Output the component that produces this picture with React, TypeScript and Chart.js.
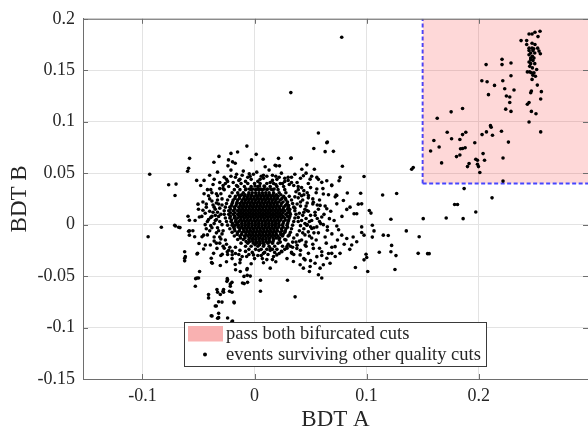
import React, { useEffect, useRef } from "react";
import { Chart, registerables } from "chart.js";

Chart.register(...registerables);

// ---------- data ----------
const xTicks = [-0.1, 0, 0.1, 0.2];
const yTicks = [-0.15, -0.1, -0.05, 0, 0.05, 0.1, 0.15, 0.2];
const xRange = [-0.153, 0.2975];
const yRange = [-0.15, 0.2];
const cutA = 0.15; // BDT A cut
const cutB = 0.04; // BDT B cut
const cutBoxEnd = [0.3, 0.2]; // region upper corner
const axisTitles = ["BDT A", "BDT B"];
const legendLabels = ["pass both bifurcated cuts", "events surviving other quality cuts"];

// dense core of the event cloud: [y, x-values]
const coreRows: [number, number[]][] = [
  [0.040, [-0.012, -0.006, 0.000, 0.005, 0.011, 0.017, 0.023]],
  [0.037, [-0.015, -0.009, -0.003, 0.003, 0.009, 0.014, 0.020, 0.026]],
  [0.034, [-0.018, -0.013, -0.008, -0.003, 0.001, 0.004, 0.007, 0.011, 0.016, 0.021, 0.027]],
  [0.031, [-0.020, -0.015, -0.010, -0.005, -0.002, 0.001, 0.004, 0.007, 0.010, 0.013, 0.017, 0.022, 0.028]],
  [0.0275, [-0.022, -0.017, -0.013, -0.009, -0.006, -0.003, 0.000, 0.003, 0.006, 0.009, 0.012, 0.015, 0.018, 0.021, 0.026, 0.031]],
  [0.024, [-0.024, -0.019, -0.015, -0.011, -0.008, -0.005, -0.002, 0.001, 0.004, 0.007, 0.010, 0.013, 0.016, 0.019, 0.023, 0.028, 0.033]],
  [0.0205, [-0.025, -0.020, -0.016, -0.013, -0.010, -0.007, -0.004, -0.001, 0.002, 0.005, 0.008, 0.011, 0.014, 0.017, 0.020, 0.024, 0.029, 0.034]],
  [0.017, [-0.026, -0.022, -0.018, -0.014, -0.011, -0.008, -0.005, -0.002, 0.001, 0.004, 0.007, 0.010, 0.013, 0.016, 0.019, 0.022, 0.026, 0.030, 0.035]],
  [0.0135, [-0.027, -0.023, -0.019, -0.015, -0.012, -0.009, -0.006, -0.003, 0.000, 0.003, 0.006, 0.009, 0.012, 0.015, 0.018, 0.021, 0.024, 0.027, 0.031, 0.036]],
  [0.010, [-0.027, -0.023, -0.019, -0.015, -0.012, -0.009, -0.006, -0.003, 0.000, 0.003, 0.006, 0.009, 0.012, 0.015, 0.018, 0.021, 0.024, 0.028, 0.032, 0.037]],
  [0.0065, [-0.026, -0.022, -0.018, -0.015, -0.012, -0.009, -0.006, -0.003, 0.000, 0.003, 0.006, 0.009, 0.012, 0.015, 0.018, 0.021, 0.024, 0.027, 0.031, 0.036]],
  [0.003, [-0.025, -0.021, -0.017, -0.014, -0.011, -0.008, -0.005, -0.002, 0.001, 0.004, 0.007, 0.010, 0.013, 0.016, 0.019, 0.022, 0.026, 0.030, 0.035]],
  [-0.0005, [-0.024, -0.020, -0.017, -0.014, -0.011, -0.008, -0.005, -0.002, 0.001, 0.004, 0.007, 0.010, 0.013, 0.016, 0.019, 0.022, 0.025, 0.029, 0.034]],
  [-0.004, [-0.022, -0.018, -0.013, -0.010, -0.007, -0.004, -0.001, 0.002, 0.005, 0.008, 0.011, 0.014, 0.017, 0.020, 0.024, 0.028, 0.033]],
  [-0.0075, [-0.020, -0.015, -0.011, -0.008, -0.005, -0.002, 0.001, 0.004, 0.007, 0.010, 0.013, 0.016, 0.019, 0.023, 0.027, 0.032]],
  [-0.011, [-0.018, -0.013, -0.009, -0.006, -0.003, 0.000, 0.003, 0.006, 0.009, 0.012, 0.015, 0.018, 0.021, 0.025, 0.030]],
  [-0.0145, [-0.015, -0.010, -0.005, -0.002, 0.001, 0.004, 0.007, 0.010, 0.013, 0.017, 0.022, 0.027]],
  [-0.018, [-0.012, -0.006, -0.001, 0.002, 0.005, 0.008, 0.012, 0.016, 0.021]],
  [-0.021, [-0.008, -0.003, 0.003, 0.008, 0.013, 0.018]],
  [-0.024, [-0.005, 0.001, 0.006, 0.011, 0.016]],
];

// further core events lying between the rows above: [y, x-values]
const coreFillRows: [number, number[]][] = [
  [0.0375, [0.0005, 0.0045, 0.0085]],
  [0.0345, [-0.0075, -0.0045, -0.0015, 0.0025, 0.0055, 0.0085, 0.0115, 0.0145, 0.0175]],
  [0.029, [-0.0145, -0.0115, -0.0085, -0.0055, -0.0025, 0.0015, 0.0045, 0.0075, 0.0105, 0.0135, 0.0165, 0.0195, 0.0235]],
  [0.0255, [-0.0175, -0.0135, -0.0095, -0.0065, -0.0035, -0.0005, 0.0025, 0.0055, 0.0085, 0.0115, 0.0145, 0.0175, 0.0205, 0.0245, 0.0275]],
  [0.022, [-0.0195, -0.0155, -0.0115, -0.0085, -0.0055, -0.0025, 0.0005, 0.0035, 0.0065, 0.0095, 0.0125, 0.0155, 0.0185, 0.0215, 0.0255, 0.0295]],
  [0.0185, [-0.0205, -0.0165, -0.0125, -0.0095, -0.0065, -0.0035, -0.0005, 0.0025, 0.0055, 0.0085, 0.0115, 0.0145, 0.0175, 0.0205, 0.0235, 0.0275, 0.0305]],
  [0.015, [-0.0215, -0.0175, -0.0135, -0.0105, -0.0075, -0.0045, -0.0015, 0.0015, 0.0045, 0.0075, 0.0105, 0.0135, 0.0165, 0.0195, 0.0225, 0.0255, 0.0295, 0.0315]],
  [0.0115, [-0.0215, -0.0175, -0.0135, -0.0105, -0.0075, -0.0045, -0.0015, 0.0015, 0.0045, 0.0075, 0.0105, 0.0135, 0.0165, 0.0195, 0.0225, 0.0255, 0.0295, 0.0315]],
  [0.008, [-0.0215, -0.0175, -0.0135, -0.0105, -0.0075, -0.0045, -0.0015, 0.0015, 0.0045, 0.0075, 0.0105, 0.0135, 0.0165, 0.0195, 0.0225, 0.0255, 0.0295, 0.0315]],
  [0.0045, [-0.0205, -0.0165, -0.0125, -0.0095, -0.0065, -0.0035, -0.0005, 0.0025, 0.0055, 0.0085, 0.0115, 0.0145, 0.0175, 0.0205, 0.0235, 0.0275, 0.0305]],
  [0.001, [-0.0195, -0.0155, -0.0115, -0.0085, -0.0055, -0.0025, 0.0005, 0.0035, 0.0065, 0.0095, 0.0125, 0.0155, 0.0185, 0.0215, 0.0255, 0.0295]],
  [-0.0025, [-0.0185, -0.0145, -0.0115, -0.0085, -0.0055, -0.0025, 0.0005, 0.0035, 0.0065, 0.0095, 0.0125, 0.0155, 0.0185, 0.0215, 0.0255, 0.0295]],
  [-0.006, [-0.0175, -0.0135, -0.0095, -0.0065, -0.0035, -0.0005, 0.0025, 0.0055, 0.0085, 0.0115, 0.0145, 0.0175, 0.0205, 0.0245, 0.0275]],
  [-0.0095, [-0.0155, -0.0115, -0.0075, -0.0045, -0.0015, 0.0015, 0.0045, 0.0075, 0.0105, 0.0135, 0.0165, 0.0195, 0.0235, 0.0255]],
  [-0.013, [-0.0125, -0.0085, -0.0045, -0.0015, 0.0015, 0.0045, 0.0075, 0.0105, 0.0135, 0.0165, 0.0195, 0.0225]],
  [-0.0165, [-0.0075, -0.0045, -0.0015, 0.0015, 0.0045, 0.0075, 0.0105, 0.0135, 0.0165]],
  [-0.0195, [0.0005, 0.0045, 0.0085]],
];

// ring of events just outside the core: [x, y]
const ringEvents: number[][] = [
  [0.040, 0.030], [0.043, 0.024], [0.038, 0.020], [0.045, 0.015], [0.040, 0.011], [0.046, 0.006], [0.041, -0.001],
  [0.044, -0.004], [0.038, -0.010], [0.042, -0.015], [0.035, -0.013], [0.039, 0.034], [0.036, 0.027], [0.047, 0.021],
  [0.049, 0.003], [0.048, -0.007], [0.034, -0.022], [0.030, -0.019], [0.039, 0.007], [0.036, 0.016],
  [-0.030, 0.030], [-0.033, 0.024], [-0.029, 0.019], [-0.035, 0.015], [-0.030, 0.010], [-0.034, 0.005], [-0.029, 0.000],
  [-0.033, -0.003], [-0.028, -0.006], [-0.031, -0.012], [-0.026, -0.015], [-0.029, 0.025], [-0.037, 0.019], [-0.039, 0.007],
  [-0.036, 0.001], [-0.025, -0.019], [-0.022, -0.022], [-0.027, 0.034], [-0.023, 0.037], [-0.031, 0.041],
  [-0.019, 0.041], [-0.014, 0.043], [-0.008, 0.042], [-0.003, 0.044], [0.003, 0.042], [0.008, 0.045], [0.014, 0.041],
  [0.020, 0.044], [0.025, 0.040], [0.030, 0.043], [0.035, 0.038], [-0.017, 0.046], [-0.006, 0.046], [0.011, 0.047],
  [0.022, 0.046], [-0.017, -0.022], [-0.013, -0.025], [-0.008, -0.026], [-0.002, -0.027], [0.004, -0.025],
  [0.009, -0.027], [0.014, -0.025], [0.020, -0.024], [0.025, -0.021], [0.023, -0.017], [0.028, -0.015], [0.031, -0.010],
];

// irregular fringe of the dense region: [x, y]
const fringeEvents: number[][] = [
  [-0.041, 0.028], [-0.038, 0.023], [-0.043, 0.020], [-0.036, 0.017], [-0.040, 0.013], [-0.044, 0.011], [-0.033, 0.012],
  [-0.038, 0.008], [-0.042, 0.003], [-0.035, 0.004], [-0.039, -0.001], [-0.034, -0.008], [-0.040, -0.006], [-0.030, -0.014],
  [-0.036, -0.016], [-0.032, 0.020], [-0.034, 0.030], [-0.028, 0.035], [-0.039, 0.034], [-0.031, -0.018], [-0.027, -0.023],
  [-0.032, 0.008], [-0.046, 0.014], [-0.043, -0.004],
  [0.039, 0.026], [0.044, 0.029], [0.041, 0.018], [0.048, 0.013], [0.043, 0.009], [0.051, 0.004], [0.045, 0.001],
  [0.039, 0.003], [0.050, -0.002], [0.043, -0.008], [0.049, -0.011], [0.040, -0.016], [0.046, -0.017], [0.038, -0.020],
  [0.053, -0.008], [0.054, 0.012], [0.037, 0.032], [0.042, 0.036], [0.047, 0.031], [0.052, 0.025], [0.034, -0.017],
  [0.055, -0.015], [0.058, 0.003], [0.056, 0.019],
  [-0.025, 0.044], [-0.021, 0.047], [-0.011, 0.048], [-0.001, 0.049], [0.006, 0.047], [0.016, 0.048], [0.027, 0.045],
  [0.033, 0.046], [-0.028, 0.038], [0.031, 0.039], [0.019, 0.039], [-0.016, 0.038],
  [-0.020, -0.026], [-0.014, -0.029], [-0.007, -0.031], [0.003, -0.030], [0.012, -0.029], [0.018, -0.027], [0.024, -0.026],
  [0.029, -0.023], [0.033, -0.027], [-0.024, -0.029], [0.007, -0.033], [0.016, -0.034],
];

// sparser halo around the core: [x, y]
const haloEvents: number[][] = [
  [-0.040, 0.048], [-0.033, 0.051], [-0.027, 0.046], [-0.021, 0.053], [-0.016, 0.049], [-0.010, 0.052], [-0.004, 0.047],
  [0.002, 0.051], [0.008, 0.048], [0.013, 0.053], [0.019, 0.047], [0.024, 0.050], [0.030, 0.046], [0.036, 0.049],
  [0.041, 0.045], [0.046, 0.050], [0.051, 0.047], [0.057, 0.044], [-0.045, 0.043], [-0.036, 0.044], [-0.024, 0.042],
  [-0.013, 0.044], [0.005, 0.044], [0.016, 0.043], [0.027, 0.042], [0.038, 0.041], [0.048, 0.040],
  [-0.048, 0.038], [-0.042, 0.034], [-0.037, 0.039], [-0.031, 0.035], [-0.026, 0.040], [-0.045, 0.030], [-0.038, 0.031], [-0.033, 0.028],
  [0.033, 0.041], [0.039, 0.037], [0.044, 0.033], [0.050, 0.036], [0.055, 0.031], [0.061, 0.035], [0.066, 0.029],
  [0.042, 0.028], [0.048, 0.026], [0.058, 0.024], [0.072, 0.027],
  [-0.046, 0.022], [-0.040, 0.025], [-0.034, 0.021], [-0.050, 0.015], [-0.043, 0.017], [-0.037, 0.012], [-0.031, 0.016],
  [-0.047, 0.008], [-0.041, 0.005], [-0.035, 0.009], [-0.031, 0.003], [-0.044, 0.000], [-0.038, -0.003], [-0.032, -0.006],
  [-0.042, -0.010], [-0.036, -0.012], [-0.029, -0.009], [-0.053, 0.004], [-0.055, -0.006],
  [0.041, 0.022], [0.046, 0.018], [0.052, 0.020], [0.057, 0.015], [0.063, 0.018], [0.044, 0.012], [0.050, 0.009],
  [0.056, 0.006], [0.062, 0.010], [0.068, 0.013], [0.042, 0.004], [0.047, 0.000], [0.053, -0.003], [0.059, 0.001],
  [0.065, -0.002], [0.071, 0.004], [0.040, -0.006], [0.045, -0.010], [0.051, -0.013], [0.057, -0.008], [0.063, -0.012],
  [0.069, -0.009], [0.075, -0.005], [0.078, 0.008],
  [-0.034, -0.018], [-0.028, -0.021], [-0.023, -0.025], [-0.017, -0.028], [-0.011, -0.031], [-0.005, -0.029], [0.000, -0.033],
  [0.006, -0.030], [0.011, -0.034], [0.017, -0.031], [0.022, -0.028], [0.027, -0.024], [0.032, -0.021], [0.037, -0.017],
  [-0.020, -0.033], [-0.013, -0.037], [-0.003, -0.038], [0.008, -0.037], [0.019, -0.036], [0.029, -0.033], [0.035, -0.029],
  [0.041, -0.025], [0.046, -0.021], [0.052, -0.019], [0.058, -0.023], [0.064, -0.018], [0.069, -0.022], [0.074, -0.015],
  [0.080, -0.019], [0.085, -0.024], [0.060, -0.030], [0.066, -0.028], [0.072, -0.031], [0.044, -0.033], [0.050, -0.035],
  [0.088, -0.012], [-0.030, -0.030], [-0.025, -0.036],
  [0.0467, -0.0006], [0.0511, -0.0038], [0.0556, -0.0022], [0.0614, 0.0000], [0.0650, -0.0054], [0.0734, -0.0013],
  [0.0778, -0.0102], [0.0823, -0.0135], [0.0867, -0.0198], [0.0912, -0.0166],
  [-0.0009, -0.0294], [0.0080, -0.0279], [0.0140, -0.0231], [0.0199, -0.0294], [0.0244, -0.0263], [0.0289, -0.0214],
  [0.0333, -0.0279], [0.0378, -0.0231], [0.0407, -0.0294], [0.0451, -0.0198], [0.0481, -0.0279], [0.0525, -0.0231],
  [0.0556, -0.0311], [0.0600, -0.0263], [0.0645, -0.0327], [0.0689, -0.0279], [0.0719, -0.0214], [0.0763, -0.0279],
  [0.0347, -0.0359], [0.0407, -0.0390], [0.0451, -0.0342], [0.0496, -0.0407], [0.0540, -0.0375], [0.0585, -0.0423],
  [0.0614, -0.0390], [0.0674, -0.0375],
  [0.0436, 0.0475], [0.0496, 0.0442], [0.0556, 0.0459], [0.0600, 0.0411], [0.0645, 0.0427], [0.0689, 0.0379],
  [0.0556, 0.0346], [0.0614, 0.0298], [0.0481, 0.0283], [0.0525, 0.0218], [0.0585, 0.0187], [0.0645, 0.0154],
  [0.0467, 0.0138], [0.0541, 0.0090], [0.0600, 0.0074], [0.0734, 0.0202], [0.0793, 0.0235], [0.0852, 0.0170],
  [0.0912, 0.0106], [0.0823, 0.0148], [0.0888, 0.0106], [0.0668, 0.0058], [0.0734, 0.0283],
];

// isolated events away from the core: [x, y]
const tailEvents: number[][] = [
  [0.0778, 0.1821], [0.0324, 0.1283], [-0.0068, 0.0763], [-0.0151, 0.0706], [0.0015, 0.0683], [0.0077, 0.0635],
  [0.0214, 0.0644], [0.0324, 0.0644], [-0.0210, 0.0692], [-0.0317, 0.0663], [-0.0362, 0.0606], [-0.0579, 0.0644],
  [-0.0588, 0.0548], [-0.0597, 0.0519], [-0.0935, 0.0490], [-0.0766, 0.0388], [-0.0700, 0.0394], [-0.0709, 0.0283],
  [-0.0516, 0.0430], [-0.0504, 0.0199], [0.0095, 0.0562], [0.0184, 0.0577], [0.0223, 0.0571], [-0.0047, 0.0494],
  [-0.0237, 0.0571], [-0.0196, 0.0610], [-0.0232, 0.0629], [-0.0172, 0.0596], [-0.0593, 0.0081], [-0.0581, 0.0042],
  [0.0650, 0.0802], [0.0570, 0.0891], [0.0645, 0.0795], [0.0529, 0.0740], [0.0630, 0.0709], [0.0704, 0.0712],
  [0.0784, 0.0567], [-0.0027, 0.0629], [0.0193, 0.0571], [0.0467, 0.0581], [0.0422, 0.0538], [0.0534, 0.0538],
  [0.0327, 0.0648], [0.0763, 0.0459], [0.0754, 0.0427], [0.0828, 0.0308], [0.0947, 0.0305], [0.0926, 0.0199],
  [0.0728, 0.0288], [0.0689, 0.0385], [0.0977, 0.0468], [0.1143, 0.0288], [0.1268, 0.0302], [0.0956, 0.0202],
  [0.1024, 0.0138], [0.1039, 0.0112], [0.1217, 0.0052], [0.1505, 0.0058], [0.1710, 0.0064], [0.1785, 0.0196],
  [0.1811, 0.0196], [0.1051, -0.0006], [0.1066, -0.0061], [0.0956, -0.0022], [0.0956, -0.0077], [0.0977, -0.0102],
  [0.1051, -0.0121], [0.1149, -0.0102], [0.1193, -0.0106], [0.1354, -0.0061], [0.1469, -0.0118], [0.1223, -0.0202],
  [0.1113, -0.0269], [0.1217, -0.0263], [0.1262, -0.0301], [0.1460, -0.0279], [0.1544, -0.0282], [0.1558, -0.0282],
  [0.0995, -0.0288], [0.1001, -0.0320], [0.0977, -0.0342], [0.1861, 0.0058], [0.1974, 0.0122], [0.1253, -0.0436],
  [0.1010, -0.0455], [0.0900, -0.0416], [0.2119, 0.0260], [0.1402, 0.0538], [0.1416, 0.0555],
  [-0.0949, -0.0118], [-0.0831, -0.0025], [-0.0712, -0.0006], [-0.0677, -0.0025], [-0.0492, 0.0074], [-0.0581, -0.0061],
  [-0.0581, -0.0102], [-0.0623, -0.0263], [-0.0623, -0.0327], [-0.0623, -0.0352], [-0.0508, -0.0279], [-0.0386, -0.0327],
  [-0.0383, -0.0368], [-0.0490, -0.0455], [-0.0513, -0.0519], [-0.0525, -0.0525], [-0.0528, -0.0599], [-0.0410, -0.0679],
  [-0.0410, -0.0712], [-0.0335, -0.0631], [-0.0281, -0.0647], [-0.0305, -0.0679], [-0.0320, -0.0750], [-0.0341, -0.0791],
  [-0.0386, -0.0885], [-0.0320, -0.0862], [-0.0320, -0.0904], [-0.0240, -0.0907], [-0.0196, -0.0936], [-0.0243, -0.0525],
  [-0.0246, -0.0551], [-0.0216, -0.0599], [-0.0223, -0.0647], [-0.0183, -0.0753], [-0.0305, -0.0397], [-0.0094, -0.0503],
  [-0.0065, -0.0493], [-0.0038, -0.0500], [0.0053, -0.0541], [-0.0092, -0.0573], [0.0053, -0.0647], [0.0294, -0.0541],
  [0.0362, -0.0702], [-0.0169, -0.0439], [-0.0706, -0.0013], [-0.0665, -0.0029], [-0.0588, -0.0064], [-0.0534, -0.0118],
  [-0.0468, -0.0118], [-0.0454, -0.0102], [-0.0495, -0.0183], [-0.0439, -0.0198], [-0.0394, -0.0198], [-0.0617, -0.0311],
  [-0.0513, -0.0285], [-0.0454, -0.0237], [-0.0377, -0.0375], [-0.0365, -0.0279], [-0.0335, -0.0231], [-0.0288, -0.0288],
  [-0.0243, -0.0263], [-0.0199, -0.0292], [-0.0172, -0.0387], [-0.0127, -0.0340], [-0.0065, -0.0427], [-0.0499, -0.0519],
  [-0.0329, -0.0657], [-0.0276, -0.0631], [-0.0276, -0.0657], [-0.0201, -0.0657], [-0.0240, -0.0535], [-0.0216, -0.0577],
  [-0.0201, -0.0561], [-0.0290, -0.0753], [-0.0181, -0.0760], [-0.0350, -0.0791], [-0.0379, -0.0888], [-0.0329, -0.0910],
  [-0.0201, -0.0942], [-0.0107, -0.0567], [-0.0062, -0.0561], [-0.0068, -0.0439], [-0.0127, -0.0455], [0.0140, -0.0423],
  [0.0600, -0.0519], [0.0570, -0.0487], [0.0490, -0.0455], [0.0436, -0.0423],
];

// events in / near the region passing both cuts: [x, y]
const signalEvents: number[][] = [
  [0.2449, 0.1853], [0.2476, 0.1853], [0.2502, 0.1869], [0.2547, 0.1879], [0.2529, 0.1827], [0.2378, 0.1788],
  [0.2428, 0.1788], [0.2428, 0.1750], [0.2476, 0.1763], [0.2502, 0.1750], [0.2449, 0.1715], [0.2476, 0.1715],
  [0.2491, 0.1709], [0.2526, 0.1715], [0.2449, 0.1692], [0.2484, 0.1692], [0.2538, 0.1686], [0.2464, 0.1667],
  [0.2500, 0.1667], [0.2550, 0.1661], [0.2449, 0.1651], [0.2479, 0.1635], [0.2464, 0.1619], [0.2493, 0.1619],
  [0.2464, 0.1603], [0.2484, 0.1596], [0.2449, 0.1580], [0.2464, 0.1564], [0.2500, 0.1564], [0.2455, 0.1538],
  [0.2479, 0.1523], [0.2517, 0.1507], [0.2434, 0.1484], [0.2455, 0.1484], [0.2470, 0.1475], [0.2493, 0.1475],
  [0.2484, 0.1452], [0.2506, 0.1442], [0.2476, 0.1411], [0.2523, 0.1356], [0.2470, 0.1298], [0.2464, 0.1282],
  [0.2559, 0.1292], [0.2553, 0.1221], [0.2449, 0.1186], [0.2434, 0.1170], [0.2470, 0.1100], [0.2511, 0.1077],
  [0.2449, 0.0997], [0.2553, 0.0901],
  [0.2066, 0.1555], [0.2208, 0.1606], [0.2208, 0.1555], [0.2288, 0.1571], [0.2288, 0.1446], [0.2215, 0.1398],
  [0.2028, 0.1398], [0.2075, 0.1388], [0.2141, 0.1353], [0.2232, 0.1321], [0.2315, 0.1308], [0.2087, 0.1263],
  [0.2247, 0.1250], [0.2277, 0.1240], [0.2277, 0.1186], [0.2241, 0.1122], [0.2288, 0.1100], [0.1856, 0.1129],
  [0.1754, 0.1096], [0.1630, 0.1033], [0.2105, 0.0962], [0.2111, 0.0946], [0.2203, 0.0908], [0.2069, 0.0901],
  [0.2030, 0.0875], [0.2123, 0.0869], [0.1885, 0.0898], [0.1856, 0.0875], [0.1719, 0.0898], [0.1758, 0.0834],
  [0.1832, 0.0827], [0.1600, 0.0817], [0.1647, 0.0754], [0.1571, 0.0715], [0.1965, 0.0795], [0.2265, 0.0802],
  [0.1856, 0.0740], [0.1879, 0.0747], [0.1838, 0.0738], [0.1802, 0.0661], [0.1832, 0.0677], [0.2039, 0.0690],
  [0.1974, 0.0635], [0.1989, 0.0625], [0.2052, 0.0625], [0.2217, 0.0648], [0.1914, 0.0593], [0.1900, 0.0564],
  [0.1989, 0.0587], [0.1998, 0.0564], [0.1669, 0.0600], [0.2010, 0.0507], [0.2217, 0.0423], [0.1870, 0.0350],
];

// ---------- styling ----------
const FONT = "'Liberation Serif', 'Times New Roman', serif";
const TEXT = "#262626";
const AXIS = "#6e6e6e";
const GRID = "#e3e3e3";
const REGION_FILL = "rgba(250, 60, 60, 0.2)";
const REGION_SWATCH = "#f9b1b1";
const REGION_EDGE = "#4646ff";

const fmt = (v: number) => String(Number(v.toFixed(3)));

const framePlugin = {
  id: "frame",
  afterDatasetsDraw(chart: any) {
    const { ctx, chartArea: a, scales } = chart;
    ctx.save();
    ctx.strokeStyle = AXIS;
    ctx.lineWidth = 1;
    ctx.beginPath();
    ctx.moveTo(a.left, a.top + 0.5);
    ctx.lineTo(a.right, a.top + 0.5);
    const L = 5;
    scales.x.ticks.forEach((t: any) => {
      const px = Math.round(scales.x.getPixelForValue(t.value)) + 0.5;
      ctx.moveTo(px, a.bottom);
      ctx.lineTo(px, a.bottom - L);
      ctx.moveTo(px, a.top);
      ctx.lineTo(px, a.top + L);
    });
    scales.y.ticks.forEach((t: any) => {
      const py = Math.round(scales.y.getPixelForValue(t.value)) + 0.5;
      ctx.moveTo(a.left, py);
      ctx.lineTo(a.left + L, py);
      ctx.moveTo(a.right, py);
      ctx.lineTo(a.right - L, py);
    });
    ctx.stroke();
    ctx.restore();
  },
};

const legendPlugin = {
  id: "boxLegend",
  afterDraw(chart: any) {
    const { ctx } = chart;
    const bx = 184.5, by = 322.5, bw = 302, bh = 44;
    ctx.save();
    ctx.fillStyle = "#ffffff";
    ctx.fillRect(bx, by, bw, bh);
    ctx.strokeStyle = "#3a3a3a";
    ctx.lineWidth = 1;
    ctx.strokeRect(bx, by, bw, bh);
    ctx.fillStyle = REGION_SWATCH;
    ctx.fillRect(bx + 3.5, by + 3.5, 35, 15.5);
    ctx.fillStyle = "#000";
    ctx.beginPath();
    ctx.arc(bx + 20.5, by + 32, 2, 0, Math.PI * 2);
    ctx.fill();
    ctx.fillStyle = TEXT;
    ctx.font = `18.5px ${FONT}`;
    ctx.textBaseline = "middle";
    ctx.textAlign = "left";
    ctx.fillText(legendLabels[0], bx + 41.5, by + 11.5);
    ctx.fillText(legendLabels[1], bx + 41.5, by + 32.5);
    ctx.restore();
  },
};

export default function App() {
  const ref = useRef<HTMLCanvasElement | null>(null);

  useEffect(() => {
    if (!ref.current) return;
    const rowsToPoints = (rows: [number, number[]][]) =>
      rows.flatMap(([y, xs]) => xs.map((x) => ({ x, y })));
    const pairsToPoints = (pairs: number[][]) => pairs.map(([x, y]) => ({ x, y }));
    const events = [
      ...rowsToPoints(coreRows),
      ...rowsToPoints(coreFillRows),
      ...pairsToPoints(ringEvents),
      ...pairsToPoints(fringeEvents),
      ...pairsToPoints(haloEvents),
      ...pairsToPoints(tailEvents),
      ...pairsToPoints(signalEvents),
    ];
    const chart = new Chart(ref.current, {
      type: "scatter",
      data: {
        datasets: [
          {
            type: "scatter",
            label: legendLabels[1],
            data: events,
            pointRadius: 1.8,
            pointBorderWidth: 0,
            pointBackgroundColor: "#000",
            borderColor: "#000",
            order: 0,
          } as any,
          {
            type: "line",
            label: legendLabels[0],
            data: [
              { x: cutA, y: cutB },
              { x: cutBoxEnd[0], y: cutB },
            ],
            fill: "end",
            backgroundColor: REGION_FILL,
            borderColor: REGION_EDGE,
            borderWidth: 2,
            borderDash: [4, 2.5],
            pointRadius: 0,
            tension: 0,
            order: 1,
          } as any,
          {
            type: "line",
            label: "edge",
            data: [
              { x: cutA, y: cutB },
              { x: cutA, y: cutBoxEnd[1] },
            ],
            fill: false,
            borderColor: REGION_EDGE,
            borderWidth: 2,
            borderDash: [4, 2.5],
            pointRadius: 0,
            tension: 0,
            order: 2,
          } as any,
        ],
      },
      options: {
        responsive: false,
        animation: false,
        events: [],
        layout: { autoPadding: false, padding: { top: 15, right: 0, left: 0, bottom: 0 } },
        plugins: { legend: { display: false }, tooltip: { enabled: false } },
        scales: {
          x: {
            type: "linear",
            min: xRange[0],
            max: xRange[1],
            afterBuildTicks: (s: any) => {
              s.ticks = xTicks.map((v) => ({ value: v }));
            },
            afterFit: (s: any) => {
              s.height = 49;
              s.paddingLeft = 0;
              s.paddingRight = 0;
            },
            grid: { color: GRID, drawTicks: false, lineWidth: 1 },
            border: { color: AXIS, width: 1 },
            ticks: {
              padding: 6,
              color: TEXT,
              font: { family: FONT, size: 18 },
              maxRotation: 0,
              callback: (v: any) => fmt(Number(v)),
            },
            title: {
              display: true,
              text: axisTitles[0],
              color: TEXT,
              font: { family: FONT, size: 23, lineHeight: 1 },
              padding: { top: 0, bottom: -3 },
            },
          },
          y: {
            type: "linear",
            min: yRange[0],
            max: yRange[1],
            afterBuildTicks: (s: any) => {
              s.ticks = yTicks.map((v) => ({ value: v }));
            },
            afterFit: (s: any) => {
              s.width = 83;
            },
            grid: { color: GRID, drawTicks: false, lineWidth: 1 },
            border: { color: AXIS, width: 1 },
            ticks: {
              padding: 8,
              color: TEXT,
              font: { family: FONT, size: 18 },
              callback: (v: any) => fmt(Number(v)),
            },
            title: {
              display: true,
              text: axisTitles[1],
              color: TEXT,
              font: { family: FONT, size: 23, lineHeight: 1 },
              padding: { top: 8, bottom: 0 },
            },
          },
        },
      } as any,
      plugins: [framePlugin, legendPlugin],
    });
    return () => chart.destroy();
  }, []);

  return (
    <div style={{ position: "absolute", left: 0, top: 0, width: 588, height: 428 }}>
      <canvas ref={ref} width={588} height={428} style={{ display: "block" }} />
    </div>
  );
}
